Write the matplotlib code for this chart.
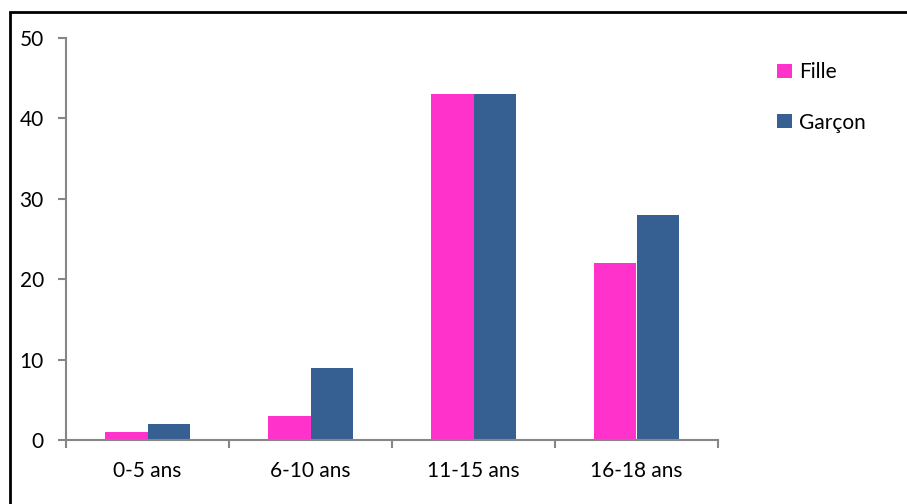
import numpy as np
import matplotlib.pyplot as plt
from matplotlib.patches import Rectangle

# data
categories = ["0-5 ans", "6-10 ans", "11-15 ans", "16-18 ans"]
fille = [1, 3, 43, 22]
garcon = [2, 9, 43, 28]
series_names = ["Fille", "Garçon"]

pink = "#FF33CC"
blue = "#376092"
axis_grey = "#868686"

plt.rcParams['font.family'] = ['Lato', 'DejaVu Sans']

W, H = 907, 504
fig = plt.figure(figsize=(W / 100, H / 100), dpi=100)
ax = fig.add_axes([66 / W, 1 - 440 / H, (718 - 66) / W, (440 - 38) / H])

x = np.arange(len(categories))
bw = 0.262
ax.bar(x - bw / 2, fille, bw, color=pink, label=series_names[0])
ax.bar(x + bw / 2, garcon, bw, color=blue, label=series_names[1])

ax.set_xlim(-0.5, len(categories) - 0.5)
ax.set_ylim(0, 50)
ax.set_yticks(range(0, 51, 10))
ax.set_xticks(x)
ax.set_xticklabels(categories)
ax.set_xticks(np.arange(-0.5, len(categories), 1), minor=True)

for s in ["top", "right"]:
    ax.spines[s].set_visible(False)
for s in ["left", "bottom"]:
    ax.spines[s].set_color(axis_grey)
    ax.spines[s].set_linewidth(1.5)

ax.tick_params(axis="x", which="major", length=0, pad=15, labelsize=15)
ax.tick_params(axis="x", which="minor", length=6, color=axis_grey, width=1.5)
ax.tick_params(axis="y", length=6, color=axis_grey, width=1.5, pad=10, labelsize=15)

leg = ax.legend(loc="upper left", bbox_to_anchor=(767 / W, 1 - 52 / H),
                bbox_transform=fig.transFigure, frameon=False, borderpad=0,
                handlelength=0.68, handleheight=0.68, handletextpad=0.35,
                labelspacing=1.45, fontsize=15)

# outer frame (clipped at right and bottom like the original)
fig.patches.append(Rectangle((10 / W, -0.1), 1.2, 1 - 12 / H + 0.1,
                             transform=fig.transFigure, fill=False,
                             edgecolor="black", linewidth=2, clip_on=False))

fig.savefig("out.png", dpi=100)
